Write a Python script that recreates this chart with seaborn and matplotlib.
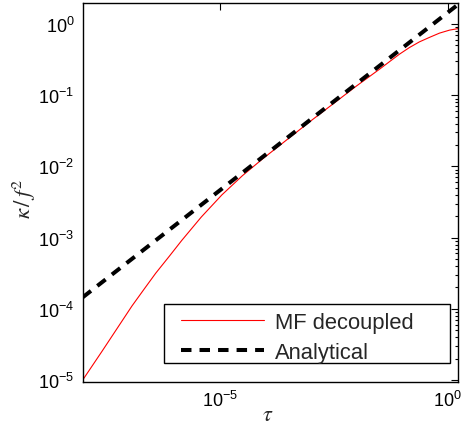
import numpy as np
import pandas as pd
import matplotlib
matplotlib.use("Agg")
import matplotlib.pyplot as plt
import seaborn as sns
from matplotlib.patches import Rectangle
from matplotlib.ticker import LogLocator, NullFormatter, FixedLocator, FixedFormatter

# Data (log10 values)
tau_mf_log = [-8.0, -7.58, -7.25, -6.92, -6.65, -6.4, -6.1, -5.83, -5.4, -4.95, -4.5,
              -4.05, -3.0, -2.0, -1.495, -1.057, -0.84, -0.62, -0.40, -0.18, 0.04, 0.26]
kappa_mf_log = [-5.0, -4.60, -4.28, -3.96, -3.72, -3.50, -3.26, -3.04, -2.71, -2.40, -2.13,
                -1.89, -1.36, -0.87, -0.634, -0.4225, -0.33, -0.25, -0.187, -0.127, -0.085, -0.06]
tau_an = [1e-8, 1.68]
kappa_an = [1.45e-4, 1.88]

xticks = [1e-5, 1e0]
xticklabels = [r"$10^{-5}$", r"$10^{0}$"]
yticks = [1e-5, 1e-4, 1e-3, 1e-2, 1e-1, 1e0]
yticklabels = [r"$10^{-5}$", r"$10^{-4}$", r"$10^{-3}$", r"$10^{-2}$", r"$10^{-1}$", r"$10^{0}$"]

sns.set_theme(style="white")
plt.rcParams["font.family"] = ["Liberation Sans", "DejaVu Sans"]
plt.rcParams["mathtext.fontset"] = "custom"
plt.rcParams["mathtext.rm"] = "Liberation Sans"
plt.rcParams["mathtext.it"] = "Liberation Sans:italic"

df_mf = pd.DataFrame({"tau": 10 ** np.array(tau_mf_log), "kappa": 10 ** np.array(kappa_mf_log)})
df_an = pd.DataFrame({"tau": tau_an, "kappa": kappa_an})

fig = plt.figure(figsize=(4.61, 4.27), dpi=100)
ax = fig.add_axes([82.7 / 461, (427 - 382.7) / 427, (458 - 82.7) / 461, (382.7 - 4) / 427])

sns.lineplot(data=df_mf, x="tau", y="kappa", ax=ax, color="#ff0000", lw=0.8,
             label="MF decoupled", sort=False, estimator=None)
sns.lineplot(data=df_an, x="tau", y="kappa", ax=ax, color="black", lw=2.9,
             label="Analytical", sort=False, estimator=None)
ax.lines[1].set_dashes((2.6, 2.0))
ax.lines[1].set_dash_capstyle("butt")

ax.set_xscale("log")
ax.set_yscale("log")
ax.set_xlim(1e-8, 1.68)
ax.set_ylim(10 ** -5.024, 10 ** 0.296)

ax.xaxis.set_major_locator(FixedLocator(xticks))
ax.xaxis.set_major_formatter(FixedFormatter(xticklabels))
ax.xaxis.set_minor_locator(FixedLocator([]))
ax.yaxis.set_major_locator(FixedLocator(yticks))
ax.yaxis.set_major_formatter(FixedFormatter(yticklabels))
ax.yaxis.set_minor_locator(LogLocator(base=10, subs=np.arange(2, 10) * 1.0, numticks=20))
ax.yaxis.set_minor_formatter(NullFormatter())

ax.tick_params(which="both", direction="in", top=True, right=True, colors="black",
               labelsize=13, width=0.8)
ax.tick_params(which="major", length=5, pad=6)
ax.tick_params(which="minor", length=2.5)
for s in ax.spines.values():
    s.set_color("black")
    s.set_linewidth(1.0)

ax.set_xlabel(r"$\tau$", fontsize=16, math_fontfamily="stix")
ax.xaxis.label.set_va("baseline")
ax.xaxis.set_label_coords(0.494, -0.102)
ax.set_ylabel(r"$\kappa\,/\,f^2$", fontsize=16.5, math_fontfamily="stix")
ax.yaxis.set_label_coords(-0.12, 0.485)

# legend frame and content
ax.add_patch(Rectangle((0.2166, 0.0494), 0.762, 0.1558, transform=ax.transAxes,
                       fill=True, facecolor="white", edgecolor="black", lw=1.0, zorder=5))
leg = ax.legend(loc="upper left", bbox_to_anchor=(0.262, 0.184), fontsize=15.8,
                handlelength=3.8, handletextpad=0.5, labelspacing=0.40,
                borderpad=0, borderaxespad=0, frameon=False)
leg.set_zorder(6)

fig.savefig("out.png", dpi=100)
